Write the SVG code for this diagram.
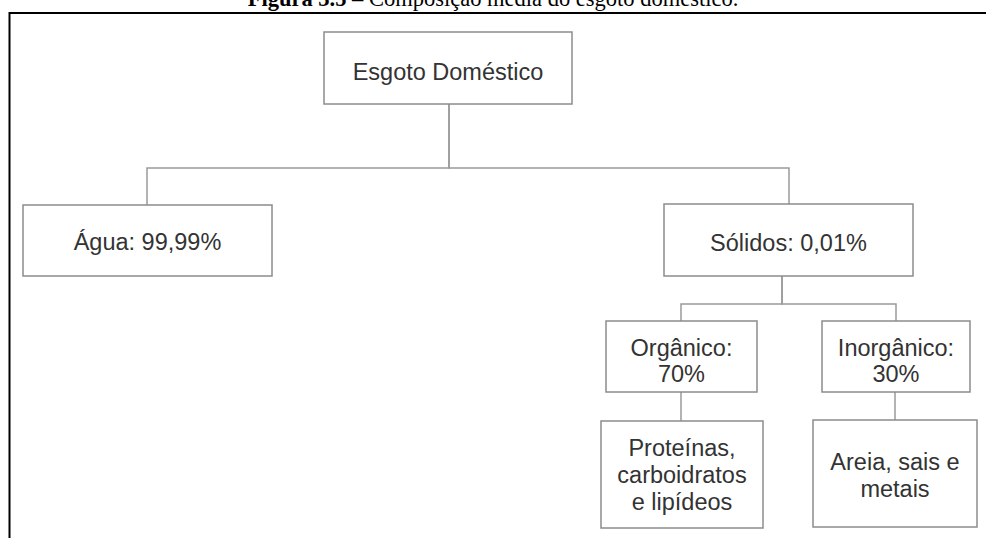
<svg xmlns="http://www.w3.org/2000/svg" width="986" height="538" viewBox="0 0 986 538">
<style>
.box{fill:#ffffff;stroke:#8c8c8c;stroke-width:1.5}
.lbl{font-family:"Liberation Sans",Arial,sans-serif;font-size:23.5px;fill:#333333;text-anchor:middle}
.edge{fill:none;stroke:#9a9a9a;stroke-width:1.5}
.title{font-family:"Liberation Serif","Times New Roman",serif;font-size:22.5px;fill:#000000;text-anchor:middle}
</style>
<rect x="0" y="0" width="986" height="538" fill="#ffffff"/>
<text class="title" x="493" y="5.5"><tspan font-weight="bold">Figura 3.5</tspan> – Composição média do esgoto doméstico.</text>
<path d="M9.5,538 V13 H986" fill="none" stroke="#000000" stroke-width="2"/>
<g id="connectors">
<path class="edge" d="M449,104 V168 H147 V205"/>
<path class="edge" d="M449,104 V168 H789 V204"/>
<path class="edge" d="M782,276 V304 H681 V321"/>
<path class="edge" d="M782,276 V304 H896 V321"/>
<path class="edge" d="M681,392 V421"/>
<path class="edge" d="M895,392 V420"/>
</g>
<g id="esgoto">
<rect class="box" x="324" y="32" width="248" height="72"/>
<text class="lbl" x="448" y="80">Esgoto Doméstico</text>
</g>
<g id="agua">
<rect class="box" x="23" y="205" width="249" height="71"/>
<text class="lbl" x="147.5" y="250">Água: 99,99%</text>
</g>
<g id="solidos">
<rect class="box" x="664" y="204" width="249" height="72"/>
<text class="lbl" x="788.5" y="251">Sólidos: 0,01%</text>
</g>
<g id="organico">
<rect class="box" x="606" y="321" width="151" height="71"/>
<text class="lbl" x="681.5" y="356">Orgânico:</text>
<text class="lbl" x="681.5" y="382">70%</text>
</g>
<g id="inorganico">
<rect class="box" x="822" y="321" width="148" height="71"/>
<text class="lbl" x="896" y="356">Inorgânico:</text>
<text class="lbl" x="896" y="382">30%</text>
</g>
<g id="proteinas">
<rect class="box" x="601" y="421" width="162" height="107"/>
<text class="lbl" x="682" y="456">Proteínas,</text>
<text class="lbl" x="682" y="483">carboidratos</text>
<text class="lbl" x="682" y="510">e lipídeos</text>
</g>
<g id="areia">
<rect class="box" x="813" y="420" width="164" height="107"/>
<text class="lbl" x="895" y="470">Areia, sais e</text>
<text class="lbl" x="895" y="497">metais</text>
</g>
</svg>
